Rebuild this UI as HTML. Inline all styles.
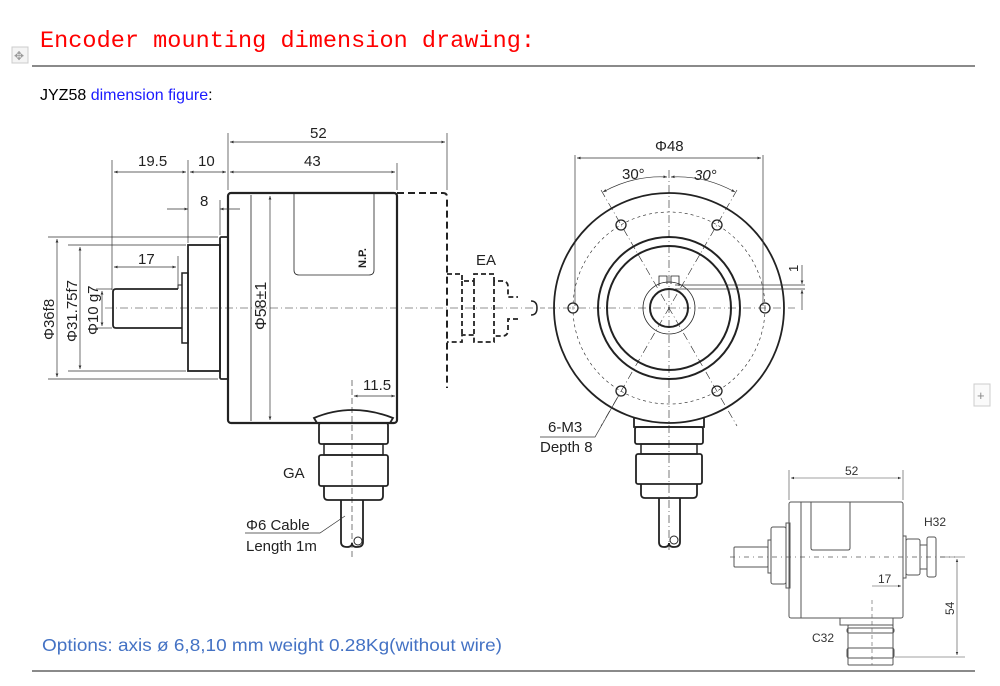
<!DOCTYPE html>
<html><head><meta charset="utf-8"><style>
html,body{margin:0;padding:0;background:#fff;width:1000px;height:686px;overflow:hidden}
svg{display:block}
text{font-family:"Liberation Sans",Arial,sans-serif}
</style></head><body>
<svg width="1000" height="686" viewBox="0 0 1000 686" xmlns="http://www.w3.org/2000/svg">
<defs>
<marker id="a" viewBox="0 0 10 10" refX="10" refY="5" markerWidth="7" markerHeight="5" orient="auto-start-reverse"><path d="M0,1 L10,5 L0,9z" fill="#333"/></marker>
</defs>
<!-- header -->
<text x="40" y="47" font-family="Liberation Mono" style="font-family:'Liberation Mono',monospace" font-size="23.5" fill="#f00" textLength="495">Encoder mounting dimension drawing:</text>
<rect x="12" y="47" width="16" height="16" fill="#f4f4f4" stroke="#ccc"/>
<text x="14" y="60" font-size="12" fill="#999">✥</text>
<line x1="32" y1="66" x2="975" y2="66" stroke="#444" stroke-width="1.3"/>
<text x="40" y="100" font-size="16" fill="#000">JYZ58 <tspan fill="#1a1aff">dimension figure</tspan>:</text>
<rect x="974" y="384" width="16" height="22" fill="#fafafa" stroke="#ccc"/>
<text x="977" y="400" font-size="13" fill="#888">+</text>

<g fill="none" stroke="#222" stroke-width="1">
<line x1="105" y1="308" x2="545" y2="308" stroke-dasharray="8,3,1,3" stroke-width="0.6"/>
<rect x="228" y="193" width="169" height="230" rx="3" stroke-width="2.2"/>
<line x1="251" y1="195" x2="251" y2="421" stroke-width="0.8"/>
<path d="M294,193 V270 q0,5 5,5 H369 q5,0 5,-5 V193" stroke-width="0.8"/>
<rect x="220" y="237" width="8" height="142" rx="1.5" stroke-width="1.8"/>
<rect x="188" y="245" width="32" height="126" stroke-width="1.8"/>
<rect x="182" y="273" width="6" height="70" stroke-width="1.5"/>
<path d="M178,289 H116 q-3,0 -3,3 V325 q0,3 3,3 H182" stroke-width="1.8"/>
<path d="M178,289 V285 H182" stroke-width="1"/>
<path d="M397,193 H443 q4,0 4,4 V388" stroke-dasharray="7,4" stroke-width="2"/>
<path d="M447,274 H462 V281 H474 V274 H494 V281 H502 q6,0 6,6 V297 H518 M518,319 H508 V330 q0,6 -6,6 H494 V342 H474 V335 H462 V342 H447 M462,281 V335 M474,281 V335 M494,281 V335" stroke-dasharray="5,3" stroke-width="1.8"/>
<path d="M531,301 q6,0 6,7 q0,7 -6,7" stroke-width="1.5"/>
<path d="M314,418 Q352,402 393,418 L390,423 H317z" stroke-width="1.8"/>
<rect x="319" y="423" width="69" height="21" rx="2" stroke-width="1.8"/>
<rect x="324" y="444" width="59" height="11" stroke-width="1.5"/>
<rect x="319" y="455" width="69" height="31" rx="2" stroke-width="1.8"/>
<path d="M324,486 V496 q0,4 4,4 H379 q4,0 4,-4 V486" stroke-width="1.8"/>
<path d="M341,500 V542 q0,5 6,5 q5,0 5,-4 q0,4 5,4 q6,0 6,-5 V500" stroke-width="1.8"/>
<circle cx="358" cy="541" r="4" stroke-width="1"/>
<line x1="352" y1="380" x2="352" y2="560" stroke-dasharray="6,3" stroke-width="0.6"/>
</g>
<g stroke="#333" stroke-width="0.7" fill="none">
<line x1="228" y1="133" x2="228" y2="190"/><line x1="447" y1="133" x2="447" y2="190"/>
<line x1="230" y1="142" x2="445" y2="142" marker-start="url(#a)" marker-end="url(#a)"/>
<line x1="397" y1="163" x2="397" y2="190"/><line x1="112" y1="160" x2="112" y2="290"/><line x1="188" y1="160" x2="188" y2="243"/>
<line x1="230" y1="172" x2="395" y2="172" marker-start="url(#a)" marker-end="url(#a)"/>
<line x1="114" y1="172" x2="186" y2="172" marker-start="url(#a)" marker-end="url(#a)"/>
<line x1="190" y1="172" x2="226" y2="172" marker-start="url(#a)" marker-end="url(#a)"/>
<line x1="220" y1="200" x2="220" y2="235"/>
<line x1="167" y1="209" x2="188" y2="209" marker-end="url(#a)"/><line x1="240" y1="209" x2="220" y2="209" marker-end="url(#a)"/>
<line x1="178" y1="256" x2="178" y2="287"/>
<line x1="114" y1="267" x2="176" y2="267" marker-start="url(#a)" marker-end="url(#a)"/>
<line x1="48" y1="237" x2="218" y2="237"/><line x1="48" y1="379" x2="218" y2="379"/>
<line x1="57" y1="239" x2="57" y2="377" marker-start="url(#a)" marker-end="url(#a)"/>
<line x1="68" y1="245" x2="186" y2="245"/><line x1="68" y1="371" x2="186" y2="371"/>
<line x1="80" y1="247" x2="80" y2="369" marker-start="url(#a)" marker-end="url(#a)"/>
<line x1="96" y1="289" x2="112" y2="289"/><line x1="96" y1="328" x2="112" y2="328"/>
<line x1="102" y1="291" x2="102" y2="326" marker-start="url(#a)" marker-end="url(#a)"/>
<line x1="270" y1="196" x2="270" y2="420" marker-start="url(#a)" marker-end="url(#a)"/>
<line x1="354" y1="396" x2="395" y2="396" marker-start="url(#a)" marker-end="url(#a)"/>
<path d="M245,533 H320 L345,516"/>
</g>
<g font-size="15" fill="#222">
<text x="310" y="138">52</text><text x="304" y="166">43</text><text x="138" y="166">19.5</text><text x="198" y="166">10</text>
<text x="200" y="206">8</text><text x="138" y="264">17</text><text x="363" y="390">11.5</text>
<text x="476" y="265">EA</text><text x="283" y="478">GA</text>
<text x="246" y="530">Φ6 Cable</text><text x="246" y="551">Length 1m</text>
<text transform="translate(54,340) rotate(-90)">Φ36f8</text>
<text transform="translate(77,342) rotate(-90)">Φ31.75f7</text>
<text transform="translate(98,335) rotate(-90)">Φ10 g7</text>
<text transform="translate(266,330) rotate(-90)" font-size="16">Φ58±1</text>
<text transform="translate(366,268) rotate(-90)" font-size="11" font-weight="bold">N.P.</text>
</g>

<g fill="none" stroke="#222">
<line x1="548" y1="308" x2="795" y2="308" stroke-dasharray="8,3,1,3" stroke-width="0.6"/>
<line x1="669" y1="170" x2="669" y2="550" stroke-dasharray="8,3,1,3" stroke-width="0.6"/>
<line x1="601" y1="190" x2="737" y2="426" stroke-dasharray="8,3,1,3" stroke-width="0.6"/>
<line x1="737" y1="190" x2="601" y2="426" stroke-dasharray="8,3,1,3" stroke-width="0.6"/>
<circle cx="669" cy="308" r="115" stroke-width="1.8"/>
<circle cx="669" cy="308" r="96" stroke-dasharray="3,3" stroke-width="0.6"/>
<circle cx="669" cy="308" r="71" stroke-width="2"/>
<circle cx="669" cy="308" r="62" stroke-width="2"/>
<circle cx="669" cy="308" r="26" stroke-width="0.8"/>
<circle cx="669" cy="308" r="19" stroke-width="2"/>
<path d="M659,286 V276 h8 v8 M671,284 v-8 h8 v10" stroke-width="0.8"/>
<g stroke-width="1.3">
<circle cx="573" cy="308" r="5"/><circle cx="765" cy="308" r="5"/>
<circle cx="621" cy="225" r="5"/><circle cx="717" cy="225" r="5"/>
<circle cx="621" cy="391" r="5"/><circle cx="717" cy="391" r="5"/>
</g>
<path d="M634,418 V427 H704 V418" stroke-width="1.8"/>
<rect x="635" y="427" width="68" height="17" rx="2" stroke-width="1.8"/>
<rect x="641" y="444" width="56" height="10" stroke-width="1.5"/>
<rect x="636" y="454" width="66" height="30" rx="2" stroke-width="1.8"/>
<path d="M641,484 V494 q0,4 4,4 H693 q4,0 4,-4 V484" stroke-width="1.8"/>
<path d="M659,498 V542 q0,5 5,5 q5,0 5,-4 q0,4 5,4 q6,0 6,-5 V498" stroke-width="1.8"/>
<circle cx="674" cy="540" r="4"/>
</g>
<g stroke="#333" stroke-width="0.7" fill="none">
<line x1="575" y1="155" x2="575" y2="306"/><line x1="763" y1="155" x2="763" y2="306"/>
<line x1="577" y1="158" x2="761" y2="158" marker-start="url(#a)" marker-end="url(#a)"/>
<path d="M603,192 Q634,175 667,177" marker-start="url(#a)" marker-end="url(#a)"/>
<path d="M671,177 Q704,175 735,192" marker-start="url(#a)" marker-end="url(#a)"/>
<line x1="675" y1="285" x2="805" y2="285"/><line x1="675" y1="289" x2="805" y2="289"/>
<line x1="802" y1="265" x2="802" y2="284" marker-end="url(#a)"/><line x1="802" y1="310" x2="802" y2="290" marker-end="url(#a)"/>
<path d="M540,437 H595 L619,395"/>
</g>
<g font-size="15" fill="#222">
<text x="655" y="151">Φ48</text><text x="622" y="179">30°</text><text x="694" y="180" font-style="italic">30°</text>
<text x="548" y="432">6-M3</text><text x="540" y="452">Depth 8</text>
<text transform="translate(798,272) rotate(-90)" font-size="13">1</text>
</g>

<g fill="none" stroke="#555" stroke-width="1">
<line x1="730" y1="557" x2="955" y2="557" stroke-dasharray="5,4,1,4" stroke-width="0.7"/>
<rect x="789" y="502" width="114" height="116" rx="2"/>
<line x1="801" y1="502" x2="801" y2="618"/>
<path d="M811,502 V548 q0,2 2,2 H848 q2,0 2,-2 V502"/>
<rect x="786" y="523" width="4" height="65"/>
<rect x="771" y="527" width="15" height="57" rx="2"/>
<rect x="768" y="540" width="3" height="33"/>
<rect x="734" y="547" width="34" height="20" rx="1"/>
<rect x="903" y="536" width="3" height="42"/>
<rect x="906" y="539" width="14" height="36" rx="2"/>
<rect x="927" y="537" width="9" height="40" rx="2"/>
<line x1="920" y1="545" x2="927" y2="545"/><line x1="920" y1="569" x2="927" y2="569"/>
<rect x="840" y="618" width="53" height="7"/>
<rect x="848" y="625" width="45" height="40" rx="1"/>
<rect x="847" y="628" width="47" height="5" rx="2"/><rect x="847" y="648" width="47" height="10" rx="2"/>
<line x1="872" y1="600" x2="872" y2="665" stroke-dasharray="4,3" stroke-width="0.6"/>
</g>
<g stroke="#444" stroke-width="0.6" fill="none">
<line x1="789" y1="470" x2="789" y2="500"/><line x1="903" y1="470" x2="903" y2="500"/>
<line x1="791" y1="478" x2="901" y2="478" marker-start="url(#a)" marker-end="url(#a)"/>
<line x1="872" y1="586" x2="901" y2="586" marker-end="url(#a)"/>
<line x1="940" y1="557" x2="965" y2="557"/><line x1="895" y1="657" x2="965" y2="657"/>
<line x1="957" y1="559" x2="957" y2="655" marker-start="url(#a)" marker-end="url(#a)"/>
</g>
<g font-size="12" fill="#333">
<text x="845" y="475">52</text><text x="878" y="583">17</text>
<text x="924" y="526">H32</text><text x="812" y="642">C32</text>
<text transform="translate(954,615) rotate(-90)">54</text>
</g>

<text x="42" y="651" font-size="17.5" fill="#4472c4" textLength="460" lengthAdjust="spacingAndGlyphs">Options: axis ø 6,8,10 mm weight 0.28Kg(without wire)</text>
<line x1="32" y1="671" x2="975" y2="671" stroke="#444" stroke-width="1.3"/>
</svg>
</body></html>
